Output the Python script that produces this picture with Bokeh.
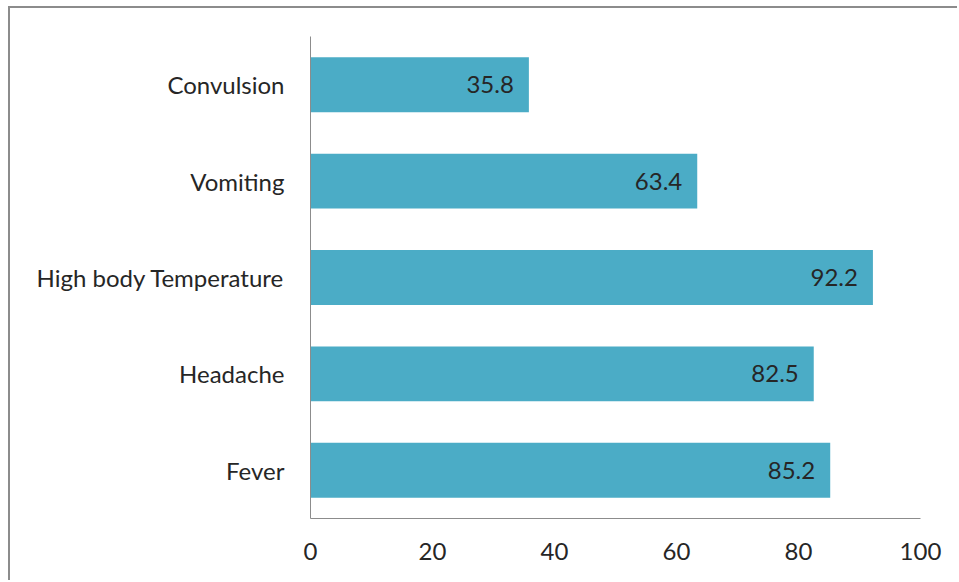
from bokeh.plotting import figure
from bokeh.models import ColumnDataSource, LabelSet, FactorRange, Range1d, FixedTicker
from bokeh.core.properties import value
from bokeh.embed import file_html
from bokeh.resources import INLINE

# Data (bottom to top)
categories = ["Fever", "Headache", "High body Temperature", "Vomiting", "Convulsion"]
values = [85.2, 82.5, 92.2, 63.4, 35.8]
x_ticks = [0, 20, 40, 60, 80, 100]

FONT = "Lato"
BAR_COLOR = "#4BACC6"
TEXT_COLOR = "#262626"
AXIS_COLOR = "#8C8C8C"

source = ColumnDataSource(dict(
    cat=categories,
    val=values,
    lab=[f"{v:.1f}" for v in values],
))

p = figure(
    width=949, height=574,
    y_range=FactorRange(factors=categories, range_padding=0),
    x_range=Range1d(0, 100),
    output_backend="svg", toolbar_location=None,
    min_border_left=300, min_border_top=28, min_border_right=39, min_border_bottom=64,
    styles={"margin-left": "8px", "margin-top": "6px",
            "border-left": "2px solid #8C8C8C", "border-top": "2px solid #8C8C8C"},
)

p.hbar(y="cat", right="val", left=0, height=0.57, source=source,
       fill_color=BAR_COLOR, line_color=None)

labels = LabelSet(x="val", y="cat", text="lab", source=source,
                  x_offset=-15, text_align="right", text_baseline="middle",
                  text_font=value(FONT), text_font_size="24px", text_color=TEXT_COLOR)
p.add_layout(labels)

p.xgrid.grid_line_color = None
p.ygrid.grid_line_color = None
p.outline_line_color = None

p.xaxis.ticker = FixedTicker(ticks=x_ticks)
for ax in (p.xaxis[0], p.yaxis[0]):
    ax.axis_line_color = AXIS_COLOR
    ax.axis_line_width = 1
    ax.major_tick_line_color = None
    ax.minor_tick_line_color = None
    ax.major_label_text_font = FONT
    ax.major_label_text_font_size = "24px"
    ax.major_label_text_color = TEXT_COLOR

p.yaxis.major_label_standoff = 20
p.xaxis.major_label_standoff = 18

open("out.html", "w").write(file_html(p, INLINE))
